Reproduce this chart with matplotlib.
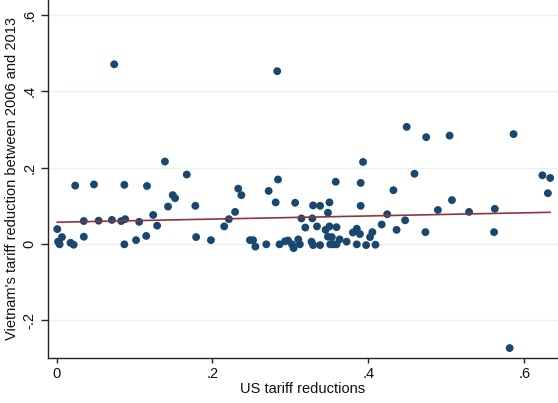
import numpy as np
import matplotlib
matplotlib.use("Agg")
import matplotlib.pyplot as plt

plt.rcParams['font.family'] = ['Liberation Sans', 'DejaVu Sans']

# US tariff reductions (x) and Vietnam's tariff reduction 2006-2013 (y)
us_red = [0.139, 0.024, 0.048, 0.087, 0.116, 0.149, 0.152, 0.143, 0.124, 0.129,
          0.035, 0.054, 0.071, 0.083, 0.088, 0.106, 0.001, 0.007, 0.035, 0.002,
          0.004, 0.018, 0.022, 0.087, 0.102, 0.115, 0.074, 0.283, 0.167, 0.284,
          0.233, 0.237, 0.272, 0.178, 0.229, 0.221, 0.215, 0.179, 0.198, 0.248,
          0.252, 0.255, 0.269, 0.281, 0.306, 0.314, 0.319, 0.286, 0.293, 0.297,
          0.304, 0.310, 0.312, 0.302, 0.329, 0.338, 0.393, 0.358, 0.390, 0.459,
          0.432, 0.350, 0.348, 0.390, 0.424, 0.447, 0.473, 0.436, 0.417, 0.405,
          0.402, 0.409, 0.397, 0.385, 0.389, 0.385, 0.380, 0.372, 0.328, 0.334,
          0.345, 0.350, 0.353, 0.359, 0.363, 0.348, 0.355, 0.359, 0.351, 0.327,
          0.329, 0.338, 0.449, 0.474, 0.504, 0.586, 0.507, 0.489, 0.529, 0.562,
          0.561, 0.623, 0.633, 0.630, 0.581, 0.003]
vn_red = [0.216, 0.153, 0.156, 0.155, 0.152, 0.128, 0.120, 0.098, 0.076, 0.048,
          0.060, 0.061, 0.063, 0.060, 0.065, 0.058, 0.039, 0.018, 0.019, 0.006,
          -0.001, 0.003, -0.002, -0.001, 0.010, 0.021, 0.471, 0.453, 0.182, 0.169,
          0.145, 0.128, 0.139, 0.100, 0.084, 0.065, 0.046, 0.018, 0.010, 0.010,
          0.010, -0.007, -0.001, 0.109, 0.108, 0.067, 0.043, -0.001, 0.007, 0.009,
          -0.011, 0.012, -0.001, -0.001, 0.101, 0.100, 0.215, 0.163, 0.160, 0.184,
          0.141, 0.109, 0.082, 0.100, 0.078, 0.062, 0.031, 0.037, 0.051, 0.031,
          0.018, -0.002, -0.003, -0.001, 0.026, 0.040, 0.030, 0.006, 0.067, 0.046,
          0.037, 0.046, 0.018, 0.044, 0.012, 0.019, -0.001, -0.001, -0.001, 0.006,
          -0.003, -0.003, 0.307, 0.280, 0.284, 0.288, 0.115, 0.089, 0.084, 0.092,
          0.031, 0.180, 0.173, 0.133, -0.273, 0.004]

# Linear fit line (endpoints)
fit_x = [0.001, 0.633]
fit_y = [0.057, 0.083]

xticks = [0, 0.2, 0.4, 0.6]
xticklabels = ["0", ".2", ".4", ".6"]
yticks = [-0.2, 0, 0.2, 0.4, 0.6]
yticklabels = ["-.2", "0", ".2", ".4", ".6"]

fig = plt.figure(figsize=(5.58, 4.03), dpi=100)
ax = fig.add_axes([48/558, 45/403, 510/558, 358/403])
ax.set_xlim(-0.0109, 0.643)
ax.set_ylim(-0.299, 0.6396)

for t in yticks:
    ax.axhline(t, color='#eaf2f3', lw=1.0, zorder=0)

ax.scatter(us_red, vn_red, s=32, color='#1a476f', edgecolors='none', zorder=3)
ax.plot(fit_x, fit_y, color='#90353b', lw=1.2, zorder=4)

ax.set_xticks(xticks)
ax.set_xticklabels(xticklabels)
ax.set_yticks(yticks)
ax.set_yticklabels(yticklabels, rotation=90, va='center')

for s in ['top', 'right']:
    ax.spines[s].set_visible(False)
for s in ['left', 'bottom']:
    ax.spines[s].set_color('#222222')
    ax.spines[s].set_linewidth(1.0)

ax.tick_params(axis='x', direction='out', length=3.6, width=1.0, color='#222222',
               labelsize=10.5, labelcolor='#111111', pad=3)
ax.tick_params(axis='y', direction='out', length=5, width=1.0, color='#222222',
               labelsize=10.5, labelcolor='#111111', pad=3.5)

ax.set_xlabel("US tariff reductions", fontsize=10.5, color='#111111', labelpad=0.5)
ax.set_ylabel("Vietnam's tariff reduction between 2006 and 2013", fontsize=10.5,
              color='#111111', labelpad=2.5)

fig.savefig("out.png", dpi=100)
